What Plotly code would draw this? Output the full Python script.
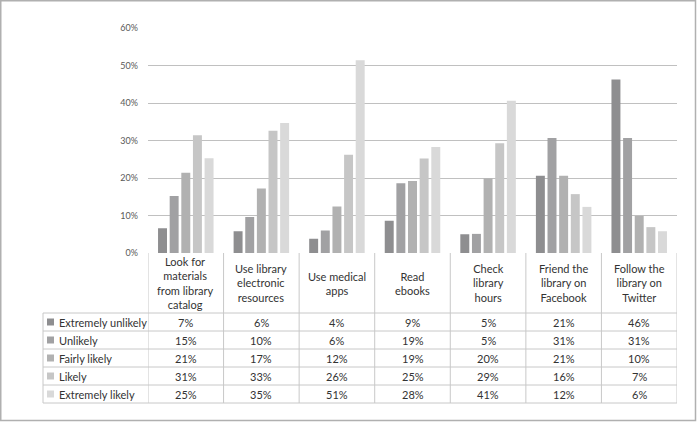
import plotly.graph_objects as go

# ---- data ----
categories = [
    "Look for<br>materials<br>from library<br>catalog",
    "Use library<br>electronic<br>resources",
    "Use medical<br>apps",
    "Read<br>ebooks",
    "Check<br>library<br>hours",
    "Friend the<br>library on<br>Facebook",
    "Follow the<br>library on<br>Twitter",
]
series_names = ["Extremely unlikely", "Unlikely", "Fairly likely", "Likely", "Extremely likely"]
extremely_unlikely = [6.6, 5.8, 3.8, 8.6, 5.0, 20.6, 46.3]
unlikely = [15.2, 9.6, 6.0, 18.6, 5.1, 30.7, 30.7]
fairly_likely = [21.4, 17.2, 12.4, 19.2, 19.9, 20.6, 9.9]
likely = [31.4, 32.6, 26.2, 25.2, 29.3, 15.7, 6.9]
extremely_likely = [25.3, 34.7, 51.4, 28.3, 40.6, 12.3, 5.8]
series_values = [extremely_unlikely, unlikely, fairly_likely, likely, extremely_likely]
series_colors = ["#8e8e90", "#a1a1a3", "#b1b1b1", "#c6c6c6", "#d9d9d9"]
y_ticks = [0, 10, 20, 30, 40, 50, 60]
y_tick_labels = [f"{v}%" for v in y_ticks]

# ---- layout geometry (pixels) ----
W, H = 697, 422
L, R, T, B = 148, 20, 28, 169
PW, PH = W - L - R, H - T - B
HEADER_H = 60
ROW_H = 18
TABLE_LEFT = 43
GRID = "#c0c0c0"
LINE = "#c8c8c8"
TXT = "#333333"
FONT = "Lato"
FS = 11

def px_x(px):
    return (px - L) / PW

def px_y(py):
    return (T + PH - py) / PH

fig = go.Figure()
for name, vals, col in zip(series_names, series_values, series_colors):
    fig.add_trace(go.Bar(x=list(range(len(categories))), y=vals, name=name,
                         marker=dict(color=col, line=dict(width=0))))

shapes = []
annotations = []
bottom0 = T + PH
table_bottom = bottom0 + HEADER_H + ROW_H * len(series_names)

# vertical lines between categories (including edges)
for i in range(len(categories) + 1):
    shapes.append(dict(type="line", xref="x", yref="paper",
                       x0=i - 0.5, x1=i - 0.5, y0=px_y(bottom0), y1=px_y(table_bottom),
                       line=dict(color=LINE, width=1)))
# left border of legend column
shapes.append(dict(type="line", xref="paper", yref="paper",
                   x0=px_x(TABLE_LEFT), x1=px_x(TABLE_LEFT),
                   y0=px_y(bottom0 + HEADER_H), y1=px_y(table_bottom),
                   line=dict(color=LINE, width=1)))
# horizontal row lines
for r in range(len(series_names) + 1):
    yy = bottom0 + HEADER_H + r * ROW_H
    shapes.append(dict(type="line", xref="paper", yref="paper",
                       x0=px_x(TABLE_LEFT), x1=1, y0=px_y(yy), y1=px_y(yy),
                       line=dict(color=LINE, width=1)))

# header texts
for i, c in enumerate(categories):
    annotations.append(dict(x=i, y=px_y(bottom0 + HEADER_H / 2), xref="x", yref="paper",
                            text=c, showarrow=False, xanchor="center", yanchor="middle",
                            font=dict(family=FONT, size=FS, color=TXT)))

# rows
for r, (name, vals, col) in enumerate(zip(series_names, series_values, series_colors)):
    yc = bottom0 + HEADER_H + r * ROW_H + ROW_H / 2
    shapes.append(dict(type="rect", xref="paper", yref="paper",
                       x0=px_x(47), x1=px_x(54), y0=px_y(yc - 3.5), y1=px_y(yc + 3.5),
                       fillcolor=col, line=dict(width=0)))
    annotations.append(dict(x=px_x(57), y=px_y(yc), xref="paper", yref="paper",
                            text=name, showarrow=False, xanchor="left", yanchor="middle",
                            font=dict(family=FONT, size=FS, color=TXT)))
    for i, v in enumerate(vals):
        annotations.append(dict(x=i, y=px_y(yc), xref="x", yref="paper",
                                text=f"{round(v)}%", showarrow=False,
                                xanchor="center", yanchor="middle",
                                font=dict(family=FONT, size=FS, color=TXT)))

# outer border
shapes.append(dict(type="rect", xref="paper", yref="paper",
                   x0=px_x(0.75), x1=px_x(695.5), y0=px_y(0.75), y1=px_y(420.5),
                   line=dict(color="#b0b0b0", width=1.5), fillcolor="rgba(0,0,0,0)"))

fig.update_layout(
    width=W, height=H,
    margin=dict(l=L, r=R, t=T, b=B, pad=0),
    paper_bgcolor="white", plot_bgcolor="white",
    barmode="group", bargap=0.23, bargroupgap=0.23,
    showlegend=False,
    shapes=shapes, annotations=annotations,
    xaxis=dict(range=[-0.5, len(categories) - 0.5], showticklabels=False,
               showgrid=False, zeroline=False, showline=False, ticks=""),
    yaxis=dict(range=[0, 60], tickmode="array", tickvals=y_ticks, ticktext=y_tick_labels,
               showgrid=True, gridcolor=GRID, gridwidth=1, zeroline=False,
               showline=False, ticks="", ticklabelstandoff=9,
               tickfont=dict(family=FONT, size=9, color="#595959")),
)

fig.write_html("out.html", config={"displayModeBar": False},
               post_script="document.body.style.margin='0';document.body.style.overflow='hidden';")
